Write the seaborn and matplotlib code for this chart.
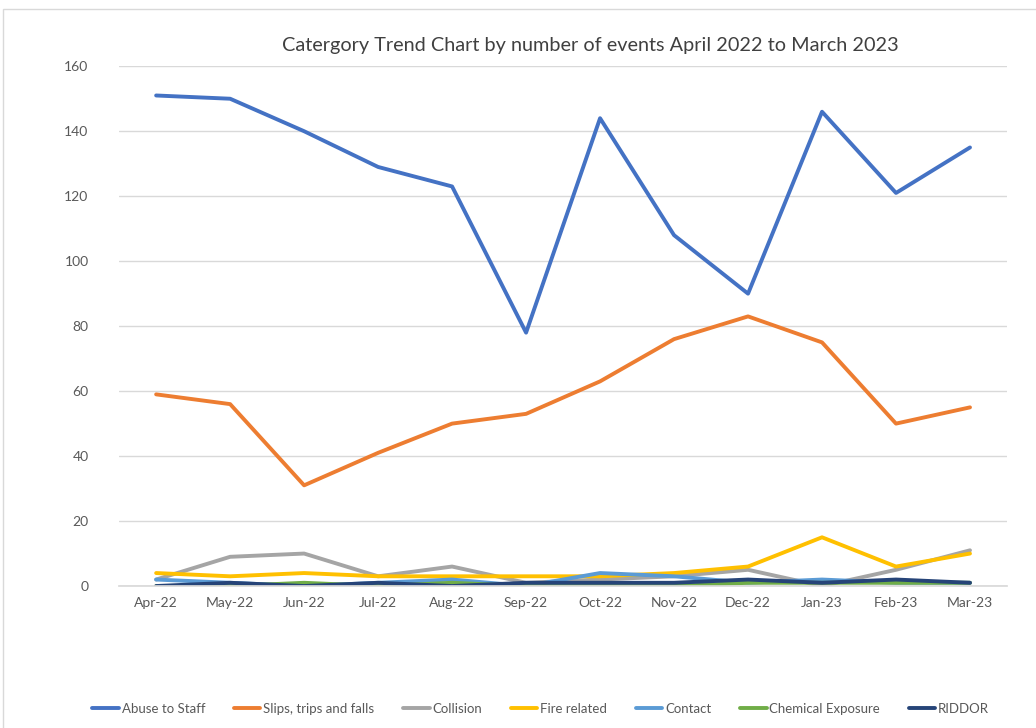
import pandas as pd
import matplotlib.pyplot as plt
import seaborn as sns
from matplotlib.patches import Rectangle

# ---- data ----
months = ["Apr-22", "May-22", "Jun-22", "Jul-22", "Aug-22", "Sep-22",
          "Oct-22", "Nov-22", "Dec-22", "Jan-23", "Feb-23", "Mar-23"]

abuse_to_staff = [151, 150, 140, 129, 123, 78, 144, 108, 90, 146, 121, 135]
slips_trips_falls = [59, 56, 31, 41, 50, 53, 63, 76, 83, 75, 50, 55]
collision = [2, 9, 10, 3, 6, 1, 2, 3, 5, 0, 5, 11]
fire_related = [4, 3, 4, 3, 3, 3, 3, 4, 6, 15, 6, 10]
contact = [2, 1, 0, 1, 2, 0, 4, 3, 1, 2, 1, 1]
chemical_exposure = [0, 0, 1, 0, 1, 0, 0, 0, 1, 1, 1, 1]
riddor = [0, 1, 0, 1, 0, 1, 1, 1, 2, 1, 2, 1]

series = {
    "Abuse to Staff": abuse_to_staff,
    "Slips, trips and falls": slips_trips_falls,
    "Collision": collision,
    "Fire related": fire_related,
    "Contact": contact,
    "Chemical Exposure": chemical_exposure,
    "RIDDOR": riddor,
}
colors = ["#4472C4", "#ED7D31", "#A5A5A5", "#FFC000", "#5B9BD5", "#70AD47", "#264478"]

# long-form table for seaborn
rows = []
for name, vals in series.items():
    for i, v in enumerate(vals):
        rows.append({"Month": i, "Category": name, "Events": v})
df = pd.DataFrame(rows)

sns.set_theme(style="white")
plt.rcParams["font.family"] = ["Lato", "DejaVu Sans"]

fig = plt.figure(figsize=(10.36, 7.28), dpi=100)
ax = fig.add_axes([0.115, 0.195, 0.857, 0.714])

sns.lineplot(data=df, x="Month", y="Events", hue="Category",
             palette=colors, linewidth=2.8, ax=ax, legend=True)

ax.set_xlim(-0.5, 11.5)
ax.set_ylim(0, 160)
ax.set_yticks(range(0, 161, 20))
ax.set_xticks(range(12))
ax.set_xticklabels(months)
ax.set_xticks([i - 0.5 for i in range(13)], minor=True)
ax.tick_params(axis="x", which="major", length=0, pad=8, labelsize=10, labelcolor="#595959")
ax.tick_params(axis="x", which="minor", length=5, color="#d9d9d9", direction="out")
ax.tick_params(axis="y", length=0, pad=22, labelsize=10, labelcolor="#595959")
ax.yaxis.grid(True, color="#d9d9d9", linewidth=1)
ax.set_axisbelow(True)
for s in ["top", "right", "left"]:
    ax.spines[s].set_visible(False)
ax.spines["bottom"].set_color("#d9d9d9")
ax.set_xlabel("")
ax.set_ylabel("")

fig.text(0.57, 0.938, "Catergory Trend Chart by number of events April 2022 to March 2023",
         ha="center", va="center", fontsize=14.3, color="#404040")

handles, labels = ax.get_legend_handles_labels()
for h in handles:
    h.set_linewidth(2.8)
ax.legend(handles, labels, loc="center", bbox_to_anchor=(0.522, 0.026),
          bbox_transform=fig.transFigure, ncol=7, frameon=False,
          fontsize=9.5, labelcolor="#595959", handlelength=2.0,
          columnspacing=2.2, handletextpad=0.2)

# chart-area border like the spreadsheet export
fig.patches.append(Rectangle((0.003, -0.01), 1.0, 0.998, transform=fig.transFigure,
                             fill=False, edgecolor="#d9d9d9", linewidth=1))

fig.savefig("out.png", dpi=100)
